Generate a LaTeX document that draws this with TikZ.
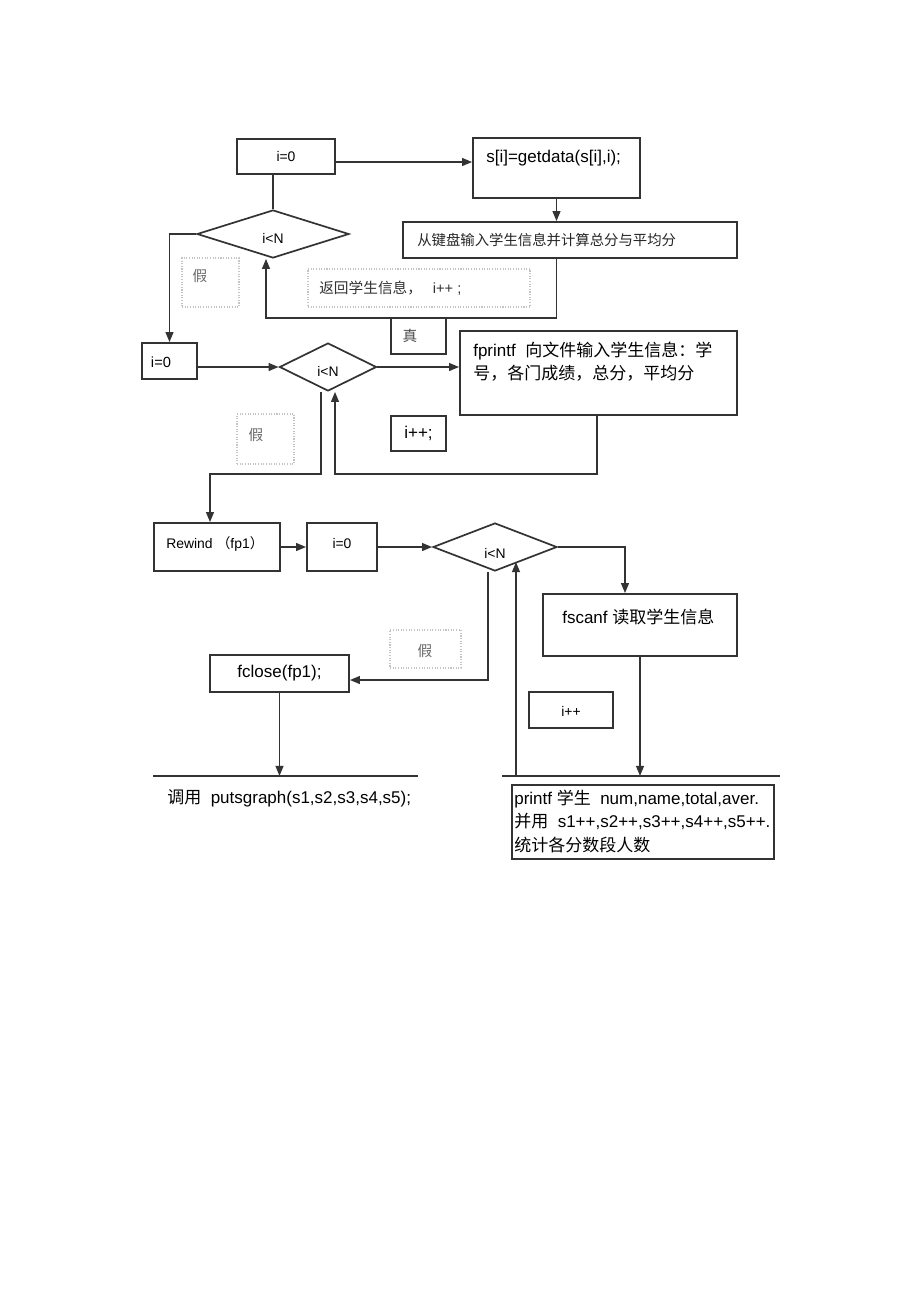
\documentclass[tikz,border=0pt]{standalone}
\usepackage{fontspec}
\setmainfont{Liberation Sans}
\newfontfamily\cjk{Noto Sans CJK SC}
\usepackage{tikz}
\usetikzlibrary{arrows.meta,positioning,shapes.geometric,fit,calc}

\definecolor{boxline}{HTML}{333333}
\definecolor{lblline}{HTML}{C4C4C4}
\definecolor{lbltext}{HTML}{6A6A6A}
\def\pu{0.647pt}

\tikzset{
  box/.style={rectangle, draw=boxline, line width=1.1pt, inner sep=0pt},
  lblbox/.style={rectangle, draw=lblline, densely dotted, line width=0.7pt, inner sep=0pt},
  cond/.style={diamond, draw=boxline, line width=1.1pt, inner sep=0pt},
  conn/.style={draw=boxline, line width=1.2pt},
  arr/.style={conn, -{Triangle[length=6.5pt,width=5pt]}},
  big/.style={font=\fontsize{11}{15}\selectfont},
  mid/.style={font=\fontsize{9.5}{12}\selectfont},
  small/.style={font=\fontsize{9}{11}\selectfont},
  lbltxt/.style={inner sep=0pt, text=lbltext, font=\cjk\fontsize{9.5}{11}\selectfont},
}

\begin{document}
\begin{tikzpicture}[x=\pu, y=-\pu]
    \useasboundingbox (0,0) rectangle (920,1303);
    \fill[white] (0,0) rectangle (920,1303);

    \node[box, fit={(237,139) (335,174)}, label={[small]center:i=0}] (i0a) {};
    \node[box, fit={(473,138) (640,198)}] (getd) {};
    \node[anchor=west, inner sep=0pt, big] (getdt) at (486,158) {s[i]=getdata(s[i],i);};
    \node[box, fit={(403,222) (737,258)}] (kb) {};
    \node[anchor=west, inner sep=0pt, text=black!85, font=\cjk\fontsize{9.3}{11}\selectfont] (kbt) at (417,240) {从键盘输入学生信息并计算总分与平均分};
    \node[cond, minimum width=152*\pu, minimum height=48*\pu, label={[small, yshift=-3pt]center:i<N}] (dia1) at (273,234) {};
    \node[lblbox, fit={(182,258) (239,307)}] (f1) {};
    \node[lbltxt] (f1t) at (200,276) {假};
    \node[lblbox, fit={(308,269) (530,307)}] (ret) {};
    \node[anchor=west, inner sep=0pt, mid, text=black!80] (rett) at (319,288) {{\cjk 返回学生信息，}\hspace{7pt}i++ ;};
    \node[box, fit={(391,318) (446,354)}] (tru) {};
    \node[lbltxt, text=black!70] (trut) at (410,336) {真};

    \node[box, fit={(142,343) (197,379)}] (i0b) {};
    \node[inner sep=0pt, mid] (i0bt) at (161,362) {i=0};
    \node[cond, minimum width=97*\pu, minimum height=48*\pu, label={[small, yshift=-3pt]center:i<N}] (dia2) at (328,367) {};
    \node[box, fit={(460,331) (737,415)}] (fpr) {};
    \node[anchor=north west, inner sep=0pt, big, align=left] (fprt) at (473,342) {fprintf\ \ {\cjk 向文件输入学生信息：学}\\{\cjk 号，各门成绩，总分，平均分}};
    \node[box, fit={(391,416) (446,451)}, label={[big]center:i++;}] (ipa) {};
    \node[lblbox, fit={(237,414) (294,464)}] (f2) {};
    \node[lbltxt] (f2t) at (256,435) {假};

    \node[box, fit={(154,523) (280,571)}] (rew) {};
    \node[anchor=west, inner sep=0pt, small] (rewt) at (166,544) {Rewind {\cjk （}fp1{\cjk ）}};
    \node[box, fit={(307,523) (377,571)}, label={[small, yshift=2pt]center:i=0}] (i0c) {};
    \node[cond, minimum width=124*\pu, minimum height=48*\pu, label={[small, yshift=-4pt]center:i<N}] (dia3) at (495,547) {};
    \node[box, fit={(543,594) (737,656)}] (fsc) {};
    \node[anchor=west, inner sep=0pt, big] (fsct) at (562,617) {fscanf {\cjk 读取学生信息}};
    \node[lblbox, fit={(390,630) (461,668)}] (f3) {};
    \node[lbltxt] (f3t) at (425,651) {假};
    \node[box, fit={(210,655) (349,692)}, label={[big]center:fclose(fp1);}] (fcl) {};
    \node[box, fit={(529,692) (613,728)}, label={[small, yshift=-1pt]center:i++}] (ipb) {};

    \coordinate (ll1) at (153,776);
    \coordinate (ll2) at (418,776);
    \coordinate (rl1) at (502,776);
    \coordinate (rl2) at (780,776);
    \draw[conn] (ll1) -- (ll2);
    \draw[conn] (rl1) -- (rl2);
    \node[anchor=west, inner sep=0pt, big] (callt) at (167,798) {{\cjk 调用}\ \ putsgraph(s1,s2,s3,s4,s5);};
    \node[box, fit={(512,785) (774,859)}, line width=0.8pt] (prt) {};
    \node[anchor=north west, inner sep=0pt, big, align=left] (prtt) at (514,790) {printf {\cjk 学生}\ \ num,name,total,aver.\\{\cjk 并用}\ \ s1++,s2++,s3++,s4++,s5++.\\{\cjk 统计各分数段人数}};

    \coordinate (bk1) at (266,318);
    \coordinate (bk2) at (335,474);
    \coordinate (fk2) at (321,474);
    \coordinate (bk3) at (516,562);

    \draw[arr] (i0a.east |- 0,162) -- (getd.west |- 0,162);
    \draw[arr] (getd.south) -- (kb.north -| getd.south);
    \draw[conn] (dia1.north |- i0a.south) -- (dia1.north);
    \draw[arr] (dia1.west) -| (i0b.north);
    \draw[arr] (kb.south -| getd.south) |- (bk1) -- (bk1 |- dia1.south);

    \draw[arr] (i0b.east |- dia2.west) -- (dia2.west);
    \draw[arr] (dia2.east) -- (fpr.west |- dia2.east);
    \draw[arr] (fpr.south -| 597,0) |- (bk2) -- (bk2 |- dia2.south);
    \draw[arr] (fk2 |- dia2.south) -- (fk2) -| (rew.north -| 210,0);

    \draw[arr] (rew.east) -- (i0c.west);
    \draw[arr] (i0c.east) -- (dia3.west);
    \draw[arr] (dia3.east) -| (fsc.north -| 625,0);
    \draw[arr] (dia3.south -| 488,0) |- (fcl.east |- 0,680);
    \draw[arr] (fcl.south) -- (fcl.south |- ll1);
    \draw[arr] (fsc.south) -- (fsc.south |- rl1);
    \draw[arr] (rl1 -| bk3) -- (bk3);
\end{tikzpicture}
\end{document}
